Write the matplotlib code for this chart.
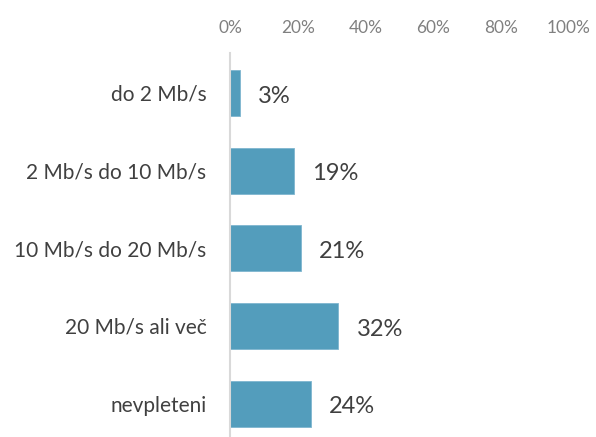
import matplotlib
matplotlib.use("Agg")
import matplotlib.pyplot as plt
from matplotlib.ticker import FuncFormatter

categories = ["do 2 Mb/s", "2 Mb/s do 10 Mb/s", "10 Mb/s do 20 Mb/s", "20 Mb/s ali več", "nevpleteni"]
values = [3, 19, 21, 32, 24]
xticks = [0, 20, 40, 60, 80, 100]

plt.rcParams['font.family'] = ['Lato', 'DejaVu Sans']

fig = plt.figure(figsize=(5.96, 4.37), dpi=100)
ax = fig.add_axes([230/596, 0, (569-230)/596, 1 - 53/437])

y = list(range(len(categories)))
ax.barh(y, values, height=0.59, color="#539DBC", edgecolor="#7FB6CF", linewidth=0.6)
ax.set_xlim(0, 100)
ax.set_ylim(len(categories) - 1 + 0.43, -0.515)

ax.set_yticks(y)
ax.set_yticklabels(categories, fontsize=15, color="#404040")
ax.set_xticks(xticks)
ax.xaxis.set_major_formatter(FuncFormatter(lambda v, p: f"{int(v)}%"))
ax.xaxis.tick_top()
ax.tick_params(axis='x', length=0, pad=12, labelsize=12.4, labelcolor="#808080")
ax.tick_params(axis='y', length=0, pad=17)

for s in ["top", "right", "bottom"]:
    ax.spines[s].set_visible(False)
ax.spines["left"].set_color("#D9D9D9")
ax.spines["left"].set_linewidth(1.5)

for yi, v in zip(y, values):
    ax.text(v + 5.3, yi + 0.04, f"{v}%", va="center", ha="left", fontsize=17, color="#404040")

fig.savefig("out.png", dpi=100)
